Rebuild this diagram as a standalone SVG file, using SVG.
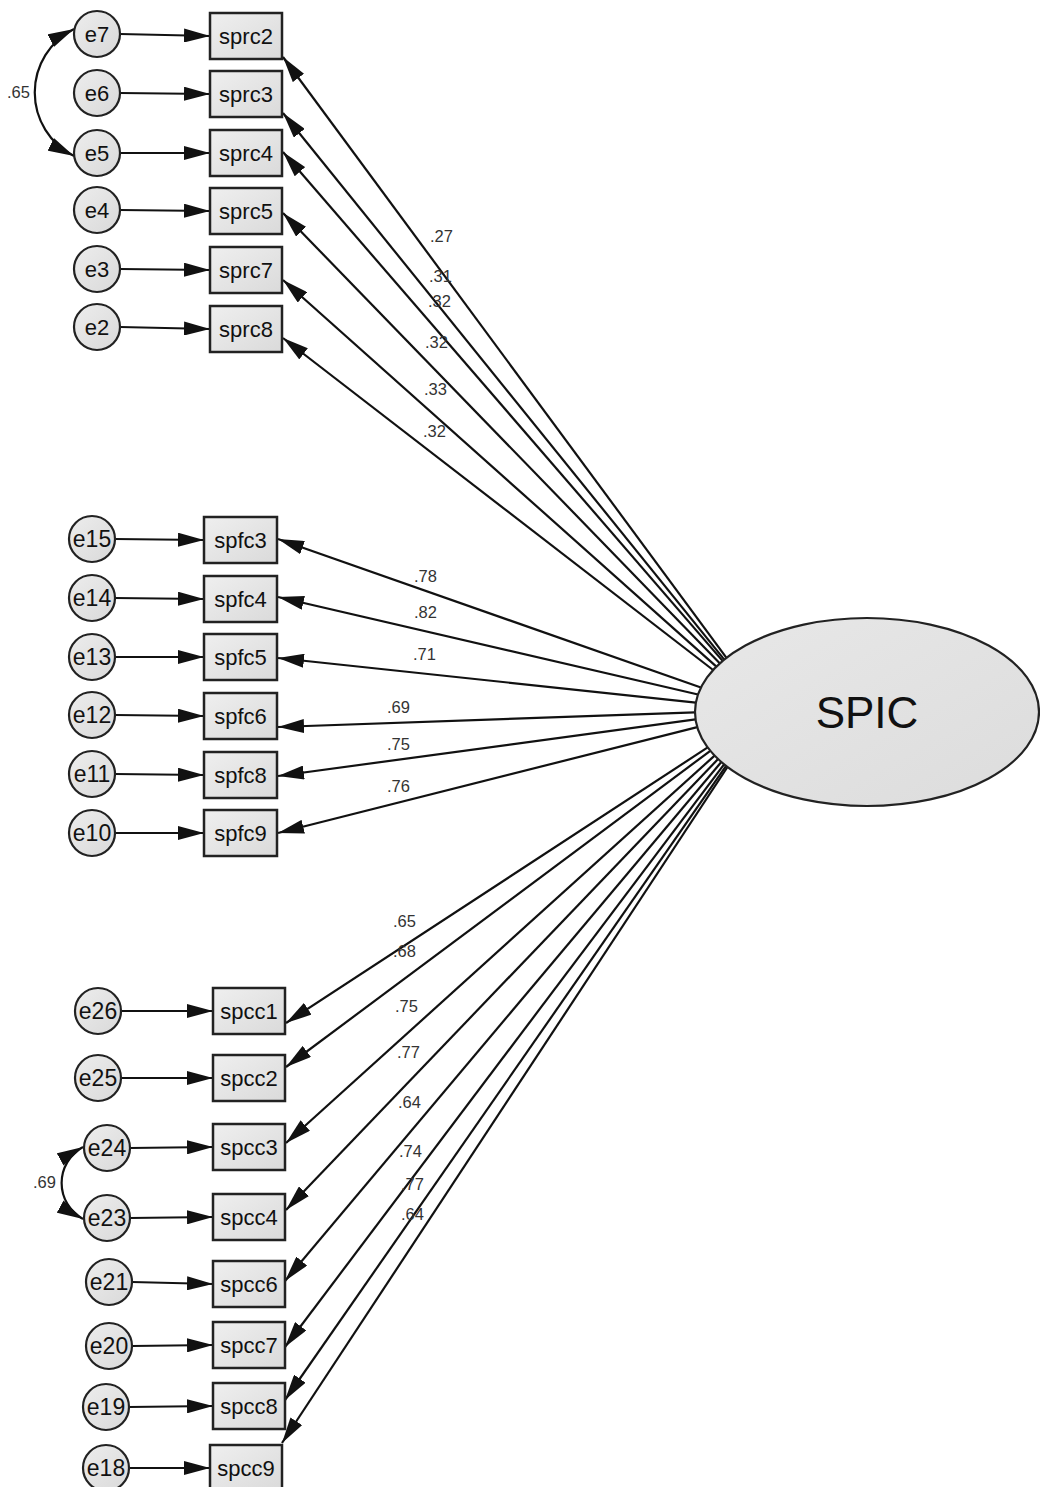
<svg xmlns="http://www.w3.org/2000/svg" width="1040" height="1487" viewBox="0 0 1040 1487">
<style>
.box{fill:url(#gb);stroke:#222;stroke-width:2.5}
.err{fill:url(#gc);stroke:#222;stroke-width:2.2}
.lat{fill:url(#ge);stroke:#222;stroke-width:2.2}
.t{font-family:"Liberation Sans",Arial,sans-serif;font-size:22px;fill:#111;text-anchor:middle}
.t2{font-family:"Liberation Sans",Arial,sans-serif;font-size:23px;fill:#111;text-anchor:middle}
.lbl{font-family:"Liberation Sans",Arial,sans-serif;font-size:16.5px;fill:#333}
.c{fill:none;stroke:#111;stroke-width:2.2;marker-end:url(#ah)}
.cov{fill:none;stroke:#111;stroke-width:2.2;marker-start:url(#ah);marker-end:url(#ah)}
</style>
<defs>
<linearGradient id="gb" x1="0" y1="0" x2="1" y2="1"><stop offset="0" stop-color="#efefef"/><stop offset="1" stop-color="#dadada"/></linearGradient>
<linearGradient id="gc" x1="0" y1="0" x2="1" y2="1"><stop offset="0" stop-color="#ededed"/><stop offset="1" stop-color="#d9d9d9"/></linearGradient>
<linearGradient id="ge" x1="0" y1="0" x2="1" y2="1"><stop offset="0" stop-color="#e8e8e8"/><stop offset="1" stop-color="#dcdcdc"/></linearGradient>
<marker id="ah" markerUnits="userSpaceOnUse" markerWidth="26" markerHeight="14" refX="26" refY="7" orient="auto-start-reverse"><path d="M0,0 L26,7 L0,14 z" fill="#111"/></marker>
</defs>
<rect width="1040" height="1487" fill="#fff"/>

<g id="connectors">
<path class="c" d="M120,34 L210,36"/>
<path class="c" d="M120,93 L210,94"/>
<path class="c" d="M120,153 L210,153"/>
<path class="c" d="M120,210 L210,211"/>
<path class="c" d="M120,269 L210,270"/>
<path class="c" d="M120,327 L210,329"/>
<path class="c" d="M115,539 L204,540"/>
<path class="c" d="M115,598 L204,599"/>
<path class="c" d="M115,657 L204,657"/>
<path class="c" d="M115,715 L204,716"/>
<path class="c" d="M115,774 L204,775"/>
<path class="c" d="M115,833 L204,833"/>
<path class="c" d="M121,1011 L213,1011"/>
<path class="c" d="M121,1078 L213,1078"/>
<path class="c" d="M130,1148 L213,1147"/>
<path class="c" d="M130,1218 L213,1217"/>
<path class="c" d="M132,1282 L213,1284"/>
<path class="c" d="M132,1346 L213,1345"/>
<path class="c" d="M129,1407 L213,1406"/>
<path class="c" d="M129,1468 L210,1468"/>
<path class="cov" d="M74,29 A71,71 0 0,0 74,156"/>
<path class="cov" d="M83,1147 A41,41 0 0,0 83,1219"/>
<path class="c" d="M726.5,657.8 L283,57"/>
<path class="c" d="M724.3,659.6 L283,113"/>
<path class="c" d="M722.6,660.9 L283,152"/>
<path class="c" d="M719.7,663.3 L283,213"/>
<path class="c" d="M716.4,666.6 L283,280"/>
<path class="c" d="M713.1,670 L283,338"/>
<path class="c" d="M700.9,687.5 L278,539"/>
<path class="c" d="M698,694.5 L278,597"/>
<path class="c" d="M695.8,702.6 L278,658"/>
<path class="c" d="M695,712.4 L278,727"/>
<path class="c" d="M695.5,719.4 L278,776"/>
<path class="c" d="M697.3,727.1 L278,833"/>
<path class="c" d="M707.7,747.4 L286,1023"/>
<path class="c" d="M710.3,750.8 L286,1067"/>
<path class="c" d="M714.6,755.6 L286,1143"/>
<path class="c" d="M718.1,759 L286,1210"/>
<path class="c" d="M721.3,762 L285,1281"/>
<path class="c" d="M724.1,764.3 L285,1347"/>
<path class="c" d="M726.1,765.9 L285,1400"/>
<path class="c" d="M727.5,767 L282,1443"/>
</g>

<g id="labels">
<text class="lbl" x="7" y="98">.65</text>
<text class="lbl" x="33" y="1188">.69</text>
<text class="lbl" x="430" y="242">.27</text>
<text class="lbl" x="429" y="282">.31</text>
<text class="lbl" x="428" y="307">.32</text>
<text class="lbl" x="425" y="348">.32</text>
<text class="lbl" x="424" y="395">.33</text>
<text class="lbl" x="423" y="437">.32</text>
<text class="lbl" x="414" y="582">.78</text>
<text class="lbl" x="414" y="618">.82</text>
<text class="lbl" x="413" y="660">.71</text>
<text class="lbl" x="387" y="713">.69</text>
<text class="lbl" x="387" y="750">.75</text>
<text class="lbl" x="387" y="792">.76</text>
<text class="lbl" x="393" y="927">.65</text>
<text class="lbl" x="393" y="957">.68</text>
<text class="lbl" x="395" y="1012">.75</text>
<text class="lbl" x="397" y="1058">.77</text>
<text class="lbl" x="398" y="1108">.64</text>
<text class="lbl" x="399" y="1157">.74</text>
<text class="lbl" x="401" y="1190">.77</text>
<text class="lbl" x="401" y="1220">.64</text>
</g>

<g id="SPIC"><ellipse class="lat" cx="867" cy="712" rx="172" ry="94"/><text x="867" y="728" font-family="Liberation Sans, Arial, sans-serif" font-size="44" fill="#111" text-anchor="middle">SPIC</text></g>

<g id="sprc2"><rect class="box" x="210" y="13" width="72" height="46"/><text class="t" x="246" y="44">sprc2</text></g>
<g id="sprc3"><rect class="box" x="210" y="71" width="72" height="46"/><text class="t" x="246" y="102">sprc3</text></g>
<g id="sprc4"><rect class="box" x="210" y="130" width="72" height="46"/><text class="t" x="246" y="161">sprc4</text></g>
<g id="sprc5"><rect class="box" x="210" y="188" width="72" height="46"/><text class="t" x="246" y="219">sprc5</text></g>
<g id="sprc7"><rect class="box" x="210" y="247" width="72" height="46"/><text class="t" x="246" y="278">sprc7</text></g>
<g id="sprc8"><rect class="box" x="210" y="306" width="72" height="46"/><text class="t" x="246" y="337">sprc8</text></g>

<g id="spfc3"><rect class="box" x="204" y="517" width="73" height="46"/><text class="t" x="240.5" y="548">spfc3</text></g>
<g id="spfc4"><rect class="box" x="204" y="576" width="73" height="46"/><text class="t" x="240.5" y="607">spfc4</text></g>
<g id="spfc5"><rect class="box" x="204" y="634" width="73" height="46"/><text class="t" x="240.5" y="665">spfc5</text></g>
<g id="spfc6"><rect class="box" x="204" y="693" width="73" height="46"/><text class="t" x="240.5" y="724">spfc6</text></g>
<g id="spfc8"><rect class="box" x="204" y="752" width="73" height="46"/><text class="t" x="240.5" y="783">spfc8</text></g>
<g id="spfc9"><rect class="box" x="204" y="810" width="73" height="46"/><text class="t" x="240.5" y="841">spfc9</text></g>

<g id="spcc1"><rect class="box" x="213" y="988" width="72" height="46"/><text class="t" x="249" y="1019">spcc1</text></g>
<g id="spcc2"><rect class="box" x="213" y="1055" width="72" height="46"/><text class="t" x="249" y="1086">spcc2</text></g>
<g id="spcc3"><rect class="box" x="213" y="1124" width="72" height="46"/><text class="t" x="249" y="1155">spcc3</text></g>
<g id="spcc4"><rect class="box" x="213" y="1194" width="72" height="46"/><text class="t" x="249" y="1225">spcc4</text></g>
<g id="spcc6"><rect class="box" x="213" y="1261" width="72" height="46"/><text class="t" x="249" y="1292">spcc6</text></g>
<g id="spcc7"><rect class="box" x="213" y="1322" width="72" height="46"/><text class="t" x="249" y="1353">spcc7</text></g>
<g id="spcc8"><rect class="box" x="213" y="1383" width="72" height="46"/><text class="t" x="249" y="1414">spcc8</text></g>
<g id="spcc9"><rect class="box" x="210" y="1445" width="72" height="46"/><text class="t" x="246" y="1476">spcc9</text></g>

<g id="e7"><circle class="err" cx="97" cy="34" r="23"/><text class="t" x="97" y="42">e7</text></g>
<g id="e6"><circle class="err" cx="97" cy="93" r="23"/><text class="t" x="97" y="101">e6</text></g>
<g id="e5"><circle class="err" cx="97" cy="153" r="23"/><text class="t" x="97" y="161">e5</text></g>
<g id="e4"><circle class="err" cx="97" cy="210" r="23"/><text class="t" x="97" y="218">e4</text></g>
<g id="e3"><circle class="err" cx="97" cy="269" r="23"/><text class="t" x="97" y="277">e3</text></g>
<g id="e2"><circle class="err" cx="97" cy="327" r="23"/><text class="t" x="97" y="335">e2</text></g>

<g id="e15"><circle class="err" cx="92" cy="539" r="23"/><text class="t2" x="92" y="547">e15</text></g>
<g id="e14"><circle class="err" cx="92" cy="598" r="23"/><text class="t2" x="92" y="606">e14</text></g>
<g id="e13"><circle class="err" cx="92" cy="657" r="23"/><text class="t2" x="92" y="665">e13</text></g>
<g id="e12"><circle class="err" cx="92" cy="715" r="23"/><text class="t2" x="92" y="723">e12</text></g>
<g id="e11"><circle class="err" cx="92" cy="774" r="23"/><text class="t2" x="92" y="782">e11</text></g>
<g id="e10"><circle class="err" cx="92" cy="833" r="23"/><text class="t2" x="92" y="841">e10</text></g>

<g id="e26"><circle class="err" cx="98" cy="1011" r="23"/><text class="t2" x="98" y="1019">e26</text></g>
<g id="e25"><circle class="err" cx="98" cy="1078" r="23"/><text class="t2" x="98" y="1086">e25</text></g>
<g id="e24"><circle class="err" cx="107" cy="1148" r="23"/><text class="t2" x="107" y="1156">e24</text></g>
<g id="e23"><circle class="err" cx="107" cy="1218" r="23"/><text class="t2" x="107" y="1226">e23</text></g>
<g id="e21"><circle class="err" cx="109" cy="1282" r="23"/><text class="t2" x="109" y="1290">e21</text></g>
<g id="e20"><circle class="err" cx="109" cy="1346" r="23"/><text class="t2" x="109" y="1354">e20</text></g>
<g id="e19"><circle class="err" cx="106" cy="1407" r="23"/><text class="t2" x="106" y="1415">e19</text></g>
<g id="e18"><circle class="err" cx="106" cy="1468" r="23"/><text class="t2" x="106" y="1476">e18</text></g>
</svg>
